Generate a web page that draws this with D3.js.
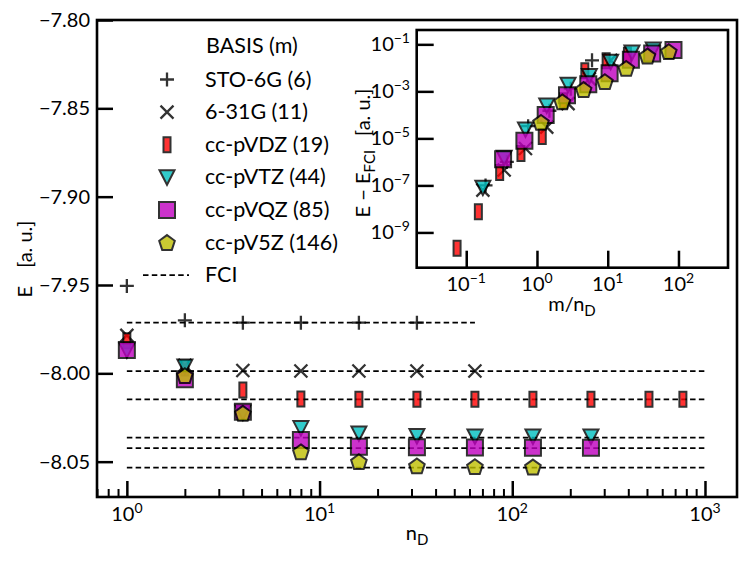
<!DOCTYPE html>
<html>
<head>
<meta charset="utf-8">
<script src="https://cdn.jsdelivr.net/npm/d3@7"></script>
<style>
body { margin: 0; background: #fff; }
text { font-family: Lato, "DejaVu Sans", sans-serif; fill: #000; }
</style>
</head>
<body>
<script>
const width = 749, height = 563

// basis sets, number of orbitals m, FCI reference energies
const basisNames = ["STO-6G", "6-31G", "cc-pVDZ", "cc-pVTZ", "cc-pVQZ", "cc-pV5Z"]
const basisM = [6, 11, 19, 44, 85, 146]
const fciE = [-7.9713, -7.9987, -8.0147, -8.0364, -8.0423, -8.0534]
const fciEnd = [64, 1000, 1000, 1000, 1000, 1000]

// energies vs n_D (main panel)
const nSTO = [1, 2, 4, 8, 16, 32]
const eSTO = [-7.9505, -7.9700, -7.9713, -7.9713, -7.9713, -7.9713]
const n631 = [1, 2, 4, 8, 16, 32, 64]
const e631 = [-7.9785, -7.9955, -7.9984, -7.9987, -7.9987, -7.9987, -7.9987]
const nDZ = [1, 2, 4, 8, 16, 32, 64, 128, 256, 512, 768]
const eDZ = [-7.9815, -7.9970, -8.0094, -8.0145, -8.0147, -8.0147, -8.0147, -8.0147, -8.0147, -8.0147, -8.0147]
const nTZ = [1, 2, 4, 8, 16, 32, 64, 128, 256]
const eTZ = [-7.9870, -7.9962, -8.0222, -8.0310, -8.0340, -8.0355, -8.0357, -8.0358, -8.0358]
const nQZ = [1, 2, 4, 8, 16, 32, 64, 128, 256]
const eQZ = [-7.9868, -8.0034, -8.0217, -8.0377, -8.0415, -8.0418, -8.0420, -8.0421, -8.0421]
const n5Z = [2, 4, 8, 16, 32, 64, 128]
const e5Z = [-8.0013, -8.0226, -8.0444, -8.0500, -8.0524, -8.0528, -8.0530]

// E - E_FCI (inset), same n_D order; null = below the inset range
const dSTO = [0.021, 1.3e-3, 1.5e-4, 3.3e-5, 1.0e-6, 1.0e-7]
const d631 = [0.0207, 3.4e-3, 3e-4, 3e-5, 3.7e-6, 4.5e-7, 6.3e-8]
const dDZ = [0.034, 0.02, 7.5e-3, 4e-4, 1.2e-5, 2.3e-6, 3.5e-7, 7.6e-9, 2.1e-10, null, null]
const dTZ = [0.06, 0.045, 0.018, 4.5e-3, 1.9e-3, 2.5e-4, 2.4e-5, 1.5e-6, 8e-8]
const dQZ = [0.057, 0.041, 0.022, 5.9e-3, 2.0e-3, 6.9e-4, 9.8e-5, 7.9e-6, 1.3e-6]
const d5Z = [0.049, 0.032, 9.5e-3, 2.6e-3, 1.2e-3, 3.6e-4, 4.8e-5]

// tick labels
const yTicks = [-7.80, -7.85, -7.90, -7.95, -8.00, -8.05]
const xTickExp = [0, 1, 2, 3]
const insetXExp = [-1, 0, 1, 2]
const insetYExp = [-1, -3, -5, -7, -9]

const shapes = ["plus", "cross", "rect", "tri", "square", "pent"]
const colors = [null, null, "#ff0000", "#00bfbf", "#bf00bf", "#bfbf00"]

const series = basisNames.map((name, i) => ({
    name: name, m: basisM[i], fci: fciE[i], end: fciEnd[i],
    n: [nSTO, n631, nDZ, nTZ, nQZ, n5Z][i],
    e: [eSTO, e631, eDZ, eTZ, eQZ, e5Z][i],
    d: [dSTO, d631, dDZ, dTZ, dQZ, d5Z][i],
    shape: shapes[i], color: colors[i]
}))

const pentagon = (() => {
    let r = 8.2, pts = []
    for (let k = 0; k < 5; k++) {
        let a = -Math.PI / 2 + k * 2 * Math.PI / 5
        pts.push([r * Math.cos(a), r * Math.sin(a) + 0.8])
    }
    return "M" + pts.map(p => p.join(",")).join("L") + "Z"
})()

const markerPath = {
    plus: "M-7,0H7M0,-7V7",
    cross: "M-6.5,-6.5L6.5,6.5M-6.5,6.5L6.5,-6.5",
    rect: "M-3.5,-7.5h7v15h-7z",
    tri: "M-7.5,-7L7.5,-7L0,7.5Z",
    square: "M-8,-8h16v16h-16z",
    pent: pentagon
}

const drawMarker = (g, s, x, y) => {
    let p = g.append("path")
        .attr("d", markerPath[s.shape])
        .attr("transform", `translate(${x},${y})`)
        .attr("opacity", 0.8)
    if (s.color) {
        p.attr("fill", s.color).attr("stroke", "#000").attr("stroke-width", 2)
    } else {
        p.attr("fill", "none").attr("stroke", "#000").attr("stroke-width", 2.3)
    }
}

const powLabel = (sel, e) => {
    sel.append("tspan").text("10")
    sel.append("tspan").attr("dy", -8).attr("font-size", 14)
        .text(e < 0 ? "\u2212" + (-e) : String(e))
}

let svg = d3.select("body")
    .append("svg")
    .attr("width", width)
    .attr("height", height)

// ---------- main panel ----------
const x = d3.scaleLog().domain([0.7, 1466]).range([97, 737])
const y = d3.scaleLinear().domain([-8.07, -7.80]).range([497, 20])

let g = svg.append("g")

// minor x ticks
let minor = []
for (let dec = -1; dec <= 3; dec++)
    for (let k = 2; k <= 9; k++) {
        let v = k * Math.pow(10, dec)
        if (v > 0.7 && v < 1466) minor.push(v)
    }
g.append("g")
    .attr("transform", "translate(0,497)")
    .call(d3.axisBottom(x).tickValues(minor).tickSize(-8).tickFormat(""))
    .call(a => a.select(".domain").remove())
    .selectAll("line").attr("stroke-width", 2)

let xAx = g.append("g")
    .attr("transform", "translate(0,497)")
    .call(d3.axisBottom(x).tickValues(xTickExp.map(e => Math.pow(10, e))).tickSize(-16).tickFormat(""))
xAx.select(".domain").remove()
xAx.selectAll("line").attr("stroke-width", 2.5)
xTickExp.forEach(e => {
    g.append("text")
        .attr("x", x(Math.pow(10, e)))
        .attr("y", 521)
        .attr("text-anchor", "middle")
        .attr("font-size", 20)
        .call(powLabel, e)
})

let yAx = g.append("g")
    .attr("transform", "translate(97,0)")
    .call(d3.axisLeft(y).tickValues(yTicks).tickSize(-16).tickPadding(7)
        .tickFormat(d => "\u2212" + Math.abs(d).toFixed(2)))
yAx.select(".domain").remove()
yAx.selectAll("line").attr("stroke-width", 2.5)
yAx.selectAll("text").attr("font-size", 20).attr("font-family", "Lato").attr("fill", "#000")

// FCI reference lines
series.forEach(s => {
    g.append("line")
        .attr("x1", x(1)).attr("x2", x(s.end))
        .attr("y1", y(s.fci)).attr("y2", y(s.fci))
        .attr("stroke", "#000")
        .attr("stroke-width", 1.7)
        .attr("stroke-dasharray", "5.5,3.3")
})

// data markers
series.forEach(s => {
    s.n.forEach((n, i) => drawMarker(g, s, x(n), y(s.e[i])))
})

g.append("rect")
    .attr("x", 97).attr("y", 20)
    .attr("width", 640).attr("height", 477)
    .attr("fill", "none").attr("stroke", "#000").attr("stroke-width", 2.6)

// axis labels
let yl = g.append("text")
    .attr("transform", "translate(32,259) rotate(-90)")
    .attr("text-anchor", "middle")
    .attr("font-size", 20)
yl.append("tspan").text("E")
yl.append("tspan").attr("dx", 18).text("[a. u.]")

let xl = g.append("text")
    .attr("x", 417).attr("y", 540)
    .attr("text-anchor", "middle")
    .attr("font-size", 20)
xl.append("tspan").text("n")
xl.append("tspan").attr("dy", 5).attr("font-size", 15).text("D")

// legend
let lg = svg.append("g")
lg.append("text").attr("x", 206).attr("y", 53).attr("font-size", 21.5).text("BASIS (m)")
series.forEach((s, i) => {
    let cy = 79.5 + i * 32.6
    drawMarker(lg, s, 167, cy)
    lg.append("text")
        .attr("x", 205).attr("y", cy + 7)
        .attr("font-size", 21.5)
        .text(`${s.name} (${s.m})`)
})
let fy = 79.5 + 6 * 32.6
lg.append("line")
    .attr("x1", 143).attr("x2", 189)
    .attr("y1", fy).attr("y2", fy)
    .attr("stroke", "#000").attr("stroke-width", 1.7)
    .attr("stroke-dasharray", "5.5,3.3")
lg.append("text").attr("x", 205).attr("y", fy + 7).attr("font-size", 21.5).text("FCI")

// ---------- inset ----------
const xi = d3.scaleLog().domain([Math.pow(10, -1.7), Math.pow(10, 2.7)]).range([416.7, 728])
const yi = d3.scaleLog().domain([Math.pow(10, -10.5), Math.pow(10, -0.39)]).range([267.7, 30])

let ig = svg.append("g")
ig.append("rect")
    .attr("x", 416.7).attr("y", 30)
    .attr("width", 311.3).attr("height", 237.7)
    .attr("fill", "#fff")

svg.append("clipPath").attr("id", "insetClip")
    .append("rect")
    .attr("x", 416.7).attr("y", 30)
    .attr("width", 311.3).attr("height", 237.7)

let ixAx = ig.append("g")
    .attr("transform", "translate(0,267.7)")
    .call(d3.axisBottom(xi).tickValues(insetXExp.map(e => Math.pow(10, e))).tickSize(-17).tickFormat(""))
ixAx.select(".domain").remove()
ixAx.selectAll("line").attr("stroke-width", 2.5)
insetXExp.forEach(e => {
    ig.append("text")
        .attr("x", xi(Math.pow(10, e)))
        .attr("y", 291)
        .attr("text-anchor", "middle")
        .attr("font-size", 20)
        .call(powLabel, e)
})

let iyAx = ig.append("g")
    .attr("transform", "translate(416.7,0)")
    .call(d3.axisLeft(yi).tickValues(insetYExp.map(e => Math.pow(10, e))).tickSize(-17).tickFormat(""))
iyAx.select(".domain").remove()
iyAx.selectAll("line").attr("stroke-width", 2.5)
insetYExp.forEach(e => {
    ig.append("text")
        .attr("x", 410)
        .attr("y", yi(Math.pow(10, e)) + 7)
        .attr("text-anchor", "end")
        .attr("font-size", 20)
        .call(powLabel, e)
})

let im = ig.append("g").attr("clip-path", "url(#insetClip)")
series.forEach(s => {
    s.n.forEach((n, i) => {
        if (s.d[i] != null) drawMarker(im, s, xi(s.m / n), yi(s.d[i]))
    })
})

ig.append("rect")
    .attr("x", 416.7).attr("y", 30)
    .attr("width", 311.3).attr("height", 237.7)
    .attr("fill", "none").attr("stroke", "#000").attr("stroke-width", 2.6)

let iyl = ig.append("text")
    .attr("transform", "translate(370,153) rotate(-90)")
    .attr("text-anchor", "middle")
    .attr("font-size", 20)
iyl.append("tspan").text("E \u2212 E")
iyl.append("tspan").attr("dy", 5).attr("font-size", 15).text("FCI")
iyl.append("tspan").attr("dy", -5).attr("dx", 14).text("[a. u.]")

let ixl = ig.append("text")
    .attr("x", 572).attr("y", 311)
    .attr("text-anchor", "middle")
    .attr("font-size", 20)
ixl.append("tspan").text("m/n")
ixl.append("tspan").attr("dy", 5).attr("font-size", 15).text("D")
</script>
</body>
</html>
